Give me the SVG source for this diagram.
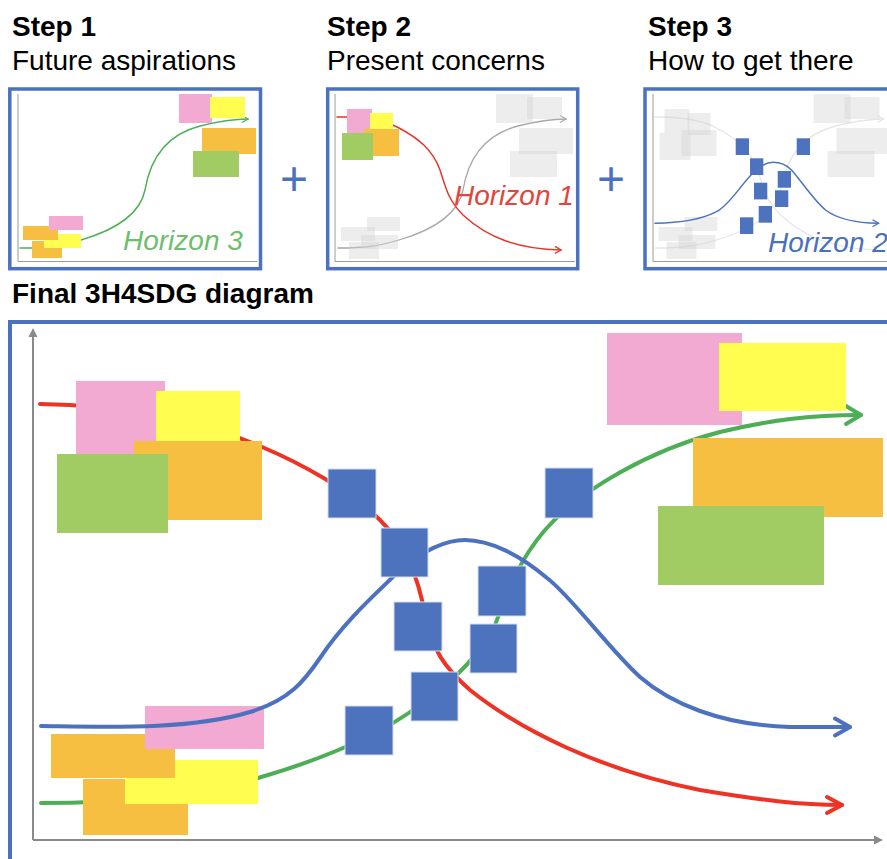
<svg xmlns="http://www.w3.org/2000/svg" xmlns:xlink="http://www.w3.org/1999/xlink" width="887" height="859" viewBox="0 0 887 859">
<style>
.t{font-family:"Liberation Sans",Arial,sans-serif;font-size:28px;fill:#000}
.b{font-weight:bold}
.hz{font-family:"Liberation Sans",Arial,sans-serif;font-size:28px;font-style:italic}
.plus{font-family:"Liberation Sans",Arial,sans-serif;font-size:48px;fill:#4A72C0;text-anchor:middle}
.frame{fill:none;stroke:#4A72C0}
.ax{stroke:#9a9a9a;stroke-width:1;fill:none}
.axm{stroke:#8a8a8a;stroke-width:2;fill:none}
.pink{fill:#F2AAD2}
.yel{fill:#FEFD50}
.org{fill:#F6BF42}
.grn{fill:#A1CC63}
.ghost{fill:#d2d2d2;fill-opacity:0.4}
.sq{fill:#4D73BE}
.sqm{fill:#4D73BE;stroke:#d4ddef;stroke-width:1}
.c{fill:none;stroke-linecap:round;stroke-linejoin:round}
</style>
<defs>
<marker id="mR" markerUnits="userSpaceOnUse" viewBox="0 0 24 24" markerWidth="24" markerHeight="24" refX="19" refY="12" orient="auto"><path d="M4,4 L19,12 L4,20" fill="none" stroke="#EE3224" stroke-width="4" stroke-linecap="round" stroke-linejoin="round"/></marker>
<marker id="mB" markerUnits="userSpaceOnUse" viewBox="0 0 24 24" markerWidth="24" markerHeight="24" refX="19" refY="12" orient="auto"><path d="M4,3.5 L19,12 L4,20.5" fill="none" stroke="#4C72BF" stroke-width="4" stroke-linecap="round" stroke-linejoin="round"/></marker>
<marker id="mG" markerUnits="userSpaceOnUse" viewBox="0 0 24 24" markerWidth="24" markerHeight="24" refX="19" refY="12" orient="auto"><path d="M4,3 L19,12 L4,21" fill="none" stroke="#4EAE55" stroke-width="4" stroke-linecap="round" stroke-linejoin="round"/></marker>
<marker id="sR" markerUnits="userSpaceOnUse" viewBox="0 0 10 10" markerWidth="10" markerHeight="10" refX="8" refY="5" orient="auto"><path d="M2,1.5 L8,5 L2,8.5" fill="none" stroke="#E8352A" stroke-width="1.3"/></marker>
<marker id="sG" markerUnits="userSpaceOnUse" viewBox="0 0 10 10" markerWidth="10" markerHeight="10" refX="8" refY="5" orient="auto"><path d="M2,1.5 L8,5 L2,8.5" fill="none" stroke="#4FAF55" stroke-width="1.3"/></marker>
<marker id="sB" markerUnits="userSpaceOnUse" viewBox="0 0 10 10" markerWidth="10" markerHeight="10" refX="8" refY="5" orient="auto"><path d="M2,1.5 L8,5 L2,8.5" fill="none" stroke="#4A72C0" stroke-width="1.3"/></marker>
<marker id="sK" markerUnits="userSpaceOnUse" viewBox="0 0 10 10" markerWidth="10" markerHeight="10" refX="8" refY="5" orient="auto"><path d="M2,1.5 L8,5 L2,8.5" fill="none" stroke="#a8a8a8" stroke-width="1.3"/></marker>
<marker id="sL" markerUnits="userSpaceOnUse" viewBox="0 0 10 10" markerWidth="10" markerHeight="10" refX="8" refY="5" orient="auto"><path d="M2,1.5 L8,5 L2,8.5" fill="none" stroke="#e6e6e6" stroke-width="1.3"/></marker>
<path id="upS" d="M20,248 C50,248 60,246 81,240 C115,230 140,215 145,190 C150,160 165,135 200,126 C220,121 235,119 248,119"/>
<path id="downS" d="M19,117 L30,117 C50,118 70,122 81,128 C100,138 115,150 122,170 C128,188 130,200 145,215 C170,238 200,249 243,250"/>
</defs>
<rect x="0" y="0" width="887" height="859" fill="#fff"/>

<!-- Panel 1 -->
<g id="panel-1">
  <text class="t b" x="12" y="36">Step 1</text>
  <text class="t" x="12" y="70">Future aspirations</text>
  <line class="ax" x1="18" y1="94" x2="18" y2="261.5"/>
  <line class="ax" x1="18" y1="261.5" x2="257" y2="261.5"/>
  <use xlink:href="#upS" class="c" stroke="#4FAF55" stroke-width="1.5" marker-end="url(#sG)"/>
  <g id="p1-notes-tr">
    <rect class="pink" x="179" y="94" width="33" height="29"/>
    <rect class="yel" x="210" y="97" width="35" height="21"/>
    <rect class="org" x="202" y="128" width="54" height="26"/>
    <rect class="grn" x="193" y="151" width="46" height="26"/>
  </g>
  <g id="p1-notes-bl">
    <rect class="org" x="32" y="241" width="30" height="17"/>
    <rect class="yel" x="44" y="234" width="37" height="14"/>
    <rect class="org" x="23" y="226" width="35" height="14"/>
    <rect class="pink" x="49" y="216" width="34" height="14"/>
  </g>
  <text class="hz" x="123" y="250" fill="#6DBE6D">Horizon 3</text>
  <rect class="frame" x="9.8" y="89" width="250.7" height="179.7" stroke-width="3.5"/>
</g>

<text id="plus-1" class="plus" x="294" y="195">+</text>

<!-- Panel 2 -->
<g id="panel-2">
  <text class="t b" x="327" y="36">Step 2</text>
  <text class="t" x="327" y="70">Present concerns</text>
  <g transform="translate(318,0)">
    <line class="ax" x1="17" y1="94" x2="17" y2="261.5"/>
    <line class="ax" x1="17" y1="261.5" x2="257" y2="261.5"/>
    <use xlink:href="#upS" class="c" stroke="#a8a8a8" stroke-width="1.3" marker-end="url(#sK)"/>
    <use xlink:href="#downS" class="c" stroke="#E8352A" stroke-width="1.5" marker-end="url(#sR)"/>
    <g id="p2-ghost-tr">
      <rect class="ghost" x="178" y="94" width="37" height="29"/>
      <rect class="ghost" x="209" y="97" width="35" height="22"/>
      <rect class="ghost" x="201" y="128" width="54" height="26"/>
      <rect class="ghost" x="192" y="151" width="47" height="26"/>
    </g>
    <g id="p2-ghost-bl">
      <rect class="ghost" x="49" y="217" width="33" height="14"/>
      <rect class="ghost" x="23" y="227" width="34" height="14"/>
      <rect class="ghost" x="43" y="235" width="37" height="14"/>
      <rect class="ghost" x="31" y="242" width="30" height="17"/>
    </g>
    <g id="p2-notes-tl">
      <rect class="pink" x="29" y="109" width="25" height="24"/>
      <rect class="yel" x="52" y="113" width="23" height="17"/>
      <rect class="org" x="46" y="129" width="35" height="27"/>
      <rect class="grn" x="24" y="133" width="31" height="27"/>
    </g>
    <text class="hz" x="136" y="205" fill="#E2453B">Horizon 1</text>
    <rect class="frame" x="9.7" y="89" width="250" height="179.7" stroke-width="3.5"/>
  </g>
</g>

<text id="plus-2" class="plus" x="611" y="195">+</text>

<!-- Panel 3 -->
<g id="panel-3">
  <text class="t b" x="648" y="36">Step 3</text>
  <text class="t" x="648" y="70">How to get there</text>
  <g transform="translate(635.5,0)">
    <line class="ax" x1="17.5" y1="94" x2="17.5" y2="261.5"/>
    <line class="ax" x1="17.5" y1="261.5" x2="257" y2="261.5"/>
    <use xlink:href="#upS" class="c" stroke="#e6e6e6" stroke-width="1.3" marker-end="url(#sL)"/>
    <use xlink:href="#downS" class="c" stroke="#e6e6e6" stroke-width="1.3" marker-end="url(#sL)"/>
    <g id="p3-ghost-tr">
      <rect class="ghost" x="178" y="94" width="37" height="29"/>
      <rect class="ghost" x="209" y="97" width="35" height="22"/>
      <rect class="ghost" x="201" y="128" width="54" height="26"/>
      <rect class="ghost" x="192" y="151" width="47" height="26"/>
    </g>
    <g id="p3-ghost-bl">
      <rect class="ghost" x="49" y="217" width="33" height="14"/>
      <rect class="ghost" x="23" y="227" width="34" height="14"/>
      <rect class="ghost" x="43" y="235" width="37" height="14"/>
      <rect class="ghost" x="31" y="242" width="30" height="17"/>
    </g>
    <g id="p3-ghost-tl">
      <rect class="ghost" x="29" y="109" width="25" height="24"/>
      <rect class="ghost" x="52" y="113" width="23" height="22"/>
      <rect class="ghost" x="46" y="130" width="35" height="26"/>
      <rect class="ghost" x="24" y="133" width="31" height="27"/>
    </g>
    <path class="c" d="M19.5,223.3 C45,223 65,220 81,211.7 C95,204 105,185 117.5,173 C125,166 130,162.3 137.5,162.3 C145,162.3 150,164 156,170 C165,180 178,200 190,210 C202,219 220,223 243,223.3" stroke="#4A72C0" stroke-width="1.5" marker-end="url(#sB)"/>
    <g id="p3-squares">
      <rect class="sq" x="100.2" y="138.3" width="13.3" height="16.7"/>
      <rect class="sq" x="161.2" y="138.3" width="13.3" height="16.7"/>
      <rect class="sq" x="114.5" y="158.3" width="13.3" height="16.7"/>
      <rect class="sq" x="142.2" y="171" width="13.3" height="16.7"/>
      <rect class="sq" x="118.5" y="182.7" width="13.3" height="16.7"/>
      <rect class="sq" x="139.5" y="190.3" width="13.3" height="16.7"/>
      <rect class="sq" x="123.2" y="206" width="13.3" height="16.7"/>
      <rect class="sq" x="104.5" y="217.3" width="13.3" height="16.7"/>
    </g>
    <text class="hz" x="132.5" y="252" fill="#4A70BD">Horizon 2</text>
    <rect class="frame" x="9.5" y="89" width="300" height="179.7" stroke-width="3.5"/>
  </g>
</g>

<!-- Final diagram -->
<g id="final">
  <text class="t b" x="12" y="303">Final 3H4SDG diagram</text>
  <g id="axes">
    <line class="axm" x1="33" y1="840" x2="33" y2="334"/>
    <polygon points="28.5,337 33,328 37.5,337" fill="#8a8a8a"/>
    <line class="axm" x1="33" y1="840" x2="876" y2="840"/>
    <polygon points="874,835.5 883,840 874,844.5" fill="#8a8a8a"/>
  </g>
  <g id="connectors">
    <path id="horizon-1" class="c" d="M40,404 C120,405 200,420 262,447 C300,463 350,490 380,520 C405,545 418,575 425,615 C432,650 445,668 470,690 C520,730 600,770 700,790 C760,800 800,805 842,805" stroke="#EE3224" stroke-width="4" marker-end="url(#mR)"/>
    <path id="horizon-3" class="c" d="M41,803 C110,803 190,797 258,778 C320,760 380,735 420,705 C455,680 480,655 495,625 C505,600 515,565 545,530 C580,490 650,450 720,432 C770,420 810,415 861,415" stroke="#4EAE55" stroke-width="4" marker-end="url(#mG)"/>
  </g>
  <g id="notes-tl">
    <rect class="pink" x="76" y="381" width="89" height="75"/>
    <rect class="yel" x="156" y="391" width="84" height="50"/>
    <rect class="org" x="134" y="441" width="128" height="79"/>
    <rect class="grn" x="57" y="454" width="111" height="79"/>
  </g>
  <g id="notes-tr">
    <rect class="pink" x="607" y="333" width="135" height="92"/>
    <rect class="yel" x="719" y="343" width="127" height="68"/>
    <rect class="org" x="693" y="438" width="190" height="79"/>
    <rect class="grn" x="658" y="506" width="166" height="79"/>
  </g>
  <g id="notes-bl">
    <rect class="org" x="83" y="779" width="105" height="56"/>
    <rect class="yel" x="125" y="760" width="133" height="44"/>
    <rect class="org" x="51" y="734" width="124" height="44"/>
    <rect class="pink" x="145" y="706" width="119" height="43"/>
  </g>
  <g id="connectors-2">
    <path id="horizon-2" class="c" d="M41,726 C110,727 190,730 250,712 C290,700 305,680 320,658 C345,620 380,590 400,570 C430,545 450,540 465,540 C490,540 520,555 547,578 C570,595 610,650 640,677 C670,703 720,725 790,727 L850,727" stroke="#4C72BF" stroke-width="4" marker-end="url(#mB)"/>
  </g>
  <g id="squares">
    <rect id="sq-1" class="sqm" x="328" y="469" width="48" height="49"/>
    <rect id="sq-2" class="sqm" x="545" y="468" width="48" height="50"/>
    <rect id="sq-3" class="sqm" x="381" y="528" width="47" height="49"/>
    <rect id="sq-4" class="sqm" x="478" y="566" width="48" height="50"/>
    <rect id="sq-5" class="sqm" x="394" y="602" width="48" height="49"/>
    <rect id="sq-6" class="sqm" x="470" y="624" width="47" height="49"/>
    <rect id="sq-7" class="sqm" x="411" y="672" width="47" height="49"/>
    <rect id="sq-8" class="sqm" x="345" y="706" width="48" height="49"/>
  </g>
  <rect class="frame" x="10" y="322" width="900" height="600" stroke-width="4"/>
</g>
</svg>
